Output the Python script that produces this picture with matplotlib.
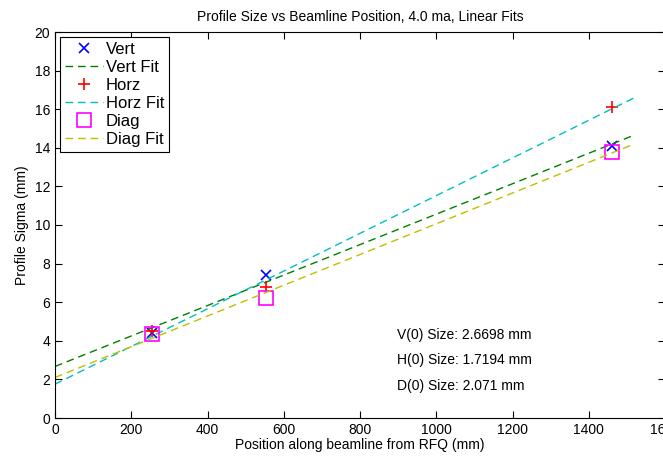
import matplotlib
matplotlib.use("Agg")
import matplotlib.pyplot as plt
import numpy as np

plt.rcParams["font.family"] = ["Liberation Sans", "DejaVu Sans"]

# measured profile sizes
positions = np.array([254, 553, 1460])
vert = np.array([4.4, 7.4, 14.1])
horz = np.array([4.5, 6.8, 16.1])
diag = np.array([4.35, 6.2, 13.8])
fit_range = np.array([0, 1520])

size_labels = ["V(0) Size: 2.6698 mm", "H(0) Size: 1.7194 mm", "D(0) Size: 2.071 mm"]
label_y = [4.3, 3.0, 1.65]

dash = (5.5, 3.5)

fig = plt.figure(figsize=(6.63, 4.59), dpi=100)
ax = fig.add_axes([55 / 663, 1 - 418 / 459, 610 / 663, 386 / 459])

ax.plot(positions, vert, "x", color="blue", ms=7, mew=1.2, label="Vert")
c = np.polyfit(positions, vert, 1)
ax.plot(fit_range, np.polyval(c, fit_range), "--", dashes=dash, color=(0, 0.5, 0), lw=1, label="Vert Fit")
ax.plot(positions, horz, "+", color="red", ms=9, mew=1.2, label="Horz")
c = np.polyfit(positions, horz, 1)
ax.plot(fit_range, np.polyval(c, fit_range), "--", dashes=dash, color=(0, 0.75, 0.75), lw=1, label="Horz Fit")
ax.plot(positions, diag, "s", color="magenta", mfc="none", ms=10, mew=1.2, label="Diag")
c = np.polyfit(positions, diag, 1)
ax.plot(fit_range, np.polyval(c, fit_range), "--", dashes=dash, color=(0.75, 0.75, 0), lw=1, label="Diag Fit")

for txt, y in zip(size_labels, label_y):
    ax.text(897, y, txt, fontsize=10, va="center", ha="left")

ax.set_xlim(0, 1600)
ax.set_ylim(0, 20)
ax.set_xticks(range(0, 1601, 200))
ax.set_yticks(range(0, 21, 2))
ax.tick_params(direction="in", top=True, right=True, labelsize=10, length=5)
ax.set_xlabel("Position along beamline from RFQ (mm)", fontsize=10, labelpad=1)
ax.set_ylabel("Profile Sigma (mm)", fontsize=10)
ax.set_title("Profile Size vs Beamline Position, 4.0 ma, Linear Fits", fontsize=10, pad=8)

leg = ax.legend(loc="upper left", fontsize=12, frameon=True, fancybox=False,
                edgecolor="black", framealpha=1, borderaxespad=0.3,
                handlelength=2.3, handletextpad=0.15, labelspacing=0.18, borderpad=0.3)
leg.get_frame().set_linewidth(0.8)

fig.savefig("out.png", dpi=100)
